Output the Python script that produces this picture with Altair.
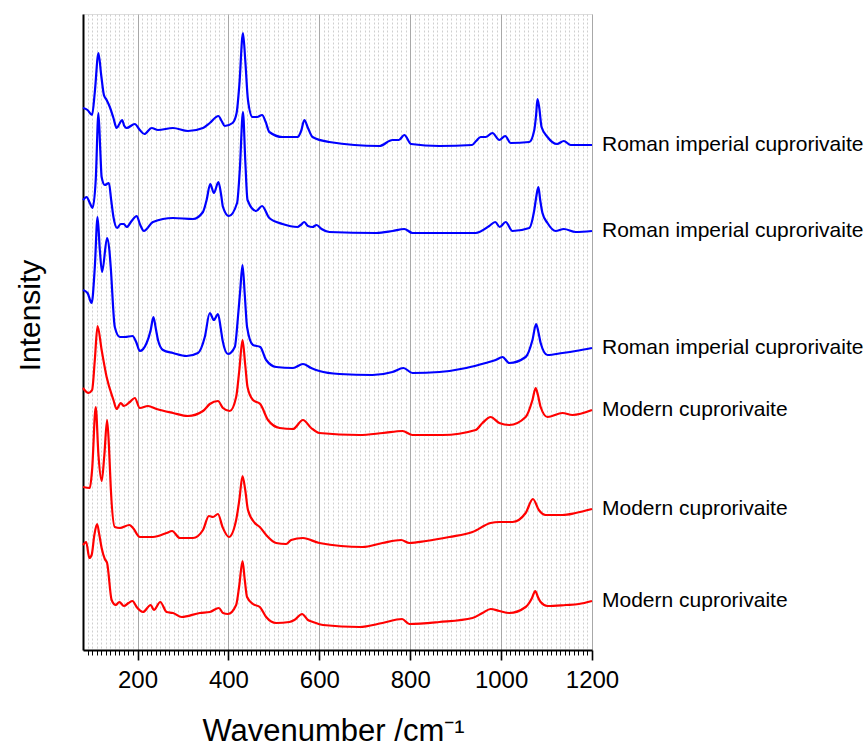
import altair as alt
import pandas as pd

# Raman spectra, offset vertically (arbitrary intensity units)
wn_1 = [80, 90, 100, 106, 114, 120, 126, 132, 139, 147, 154, 160, 166, 171, 176, 194, 205, 215, 231, 245,
        278, 311, 344, 359, 378, 385, 392, 409, 418, 424, 432, 437, 443, 453, 463, 474, 482, 490, 519, 552,
        560, 567, 575, 585, 622, 732, 761, 775, 787, 802, 864, 936, 945, 955, 966, 981, 996, 1009, 1021, 1062,
        1073, 1077, 1080, 1084, 1089, 1102, 1123, 1138, 1153, 1200]
int_1 = [542, 540, 535, 558, 597, 575, 555, 550, 543, 532, 522, 526, 530, 524, 522, 526, 520, 516, 522, 520,
         522, 519, 522, 527, 534, 529, 524, 527, 537, 565, 617, 590, 550, 533, 533, 535, 528, 518, 513, 513,
         519, 530, 522, 513, 508, 504, 510, 510, 515, 506, 504, 505, 509, 513, 513, 517, 510, 514, 507, 508,
         520, 535, 551, 542, 523, 513, 506, 509, 505, 505]

wn_2 = [80, 88, 95, 101, 108, 114, 118, 121, 128, 137, 142, 147, 155, 163, 170, 176, 187, 198, 206, 214,
        234, 278, 322, 344, 352, 360, 368, 378, 384, 388, 401, 419, 425, 432, 437, 442, 461, 474, 490, 519,
        552, 559, 567, 575, 585, 594, 605, 622, 725, 761, 787, 805, 944, 974, 987, 997, 1010, 1025, 1062, 1073,
        1078, 1082, 1086, 1091, 1102, 1120, 1138, 1164, 1200]
int_2 = [450, 453, 447, 442, 470, 537, 500, 473, 465, 467, 450, 433, 422, 426, 426, 423, 429, 434, 425, 419,
         428, 432, 431, 438, 450, 466, 457, 468, 455, 443, 434, 447, 480, 538, 490, 450, 439, 444, 432, 426,
         423, 425, 428, 424, 423, 425, 421, 418, 417, 419, 421, 417, 417, 424, 428, 423, 428, 419, 422, 440,
         455, 463, 450, 437, 427, 419, 421, 418, 419]

wn_3 = [80, 90, 99, 106, 112, 117, 122, 133, 138, 141, 150, 161, 172, 189, 197, 205, 220, 229, 235, 240,
        245, 256, 278, 308, 333, 348, 359, 368, 377, 383, 387, 399, 414, 421, 426, 431, 436, 441, 454, 470,
        483, 505, 542, 564, 582, 600, 644, 717, 761, 785, 805, 864, 923, 966, 988, 1003, 1018, 1054, 1069, 1077,
        1082, 1087, 1102, 1135, 1164, 1200]
int_3 = [360, 357, 347, 383, 433, 400, 378, 412, 400, 383, 323, 313, 313, 314, 308, 299, 307, 320, 333, 322,
         310, 300, 297, 294, 297, 313, 337, 330, 336, 322, 310, 296, 303, 333, 360, 385, 355, 323, 305, 303,
         290, 283, 282, 286, 282, 279, 276, 275, 278, 282, 277, 278, 282, 287, 290, 293, 287, 293, 310, 326,
         318, 307, 295, 297, 299, 302]

wn_4 = [80, 92, 100, 106, 112, 121, 132, 147, 154, 163, 170, 183, 194, 205, 223, 242, 278, 311, 344, 359,
        377, 388, 403, 417, 424, 431, 437, 442, 454, 470, 487, 513, 542, 564, 582, 600, 688, 740, 783, 805,
        871, 944, 959, 977, 996, 1018, 1054, 1069, 1076, 1081, 1087, 1102, 1135, 1157, 1200]
int_4 = [262, 257, 260, 290, 324, 300, 273, 250, 241, 247, 244, 248, 252, 242, 244, 241, 237, 234, 239, 246,
         249, 242, 239, 253, 280, 310, 285, 263, 250, 246, 230, 222, 221, 230, 222, 217, 215, 217, 219, 215,
         215, 220, 227, 233, 227, 225, 233, 250, 262, 255, 243, 233, 237, 235, 240]

wn_5 = [80, 95, 100, 108, 114, 121, 127, 133, 137, 141, 150, 161, 182, 190, 205, 234, 264, 276, 293, 322,
        344, 357, 366, 377, 387, 401, 417, 424, 431, 437, 443, 458, 469, 483, 505, 527, 538, 564, 600, 695,
        739, 780, 798, 835, 886, 937, 977, 996, 1025, 1054, 1070, 1083, 1098, 1135, 1164, 1200]
int_5 = [163, 162, 180, 243, 195, 169, 195, 230, 205, 163, 123, 122, 125, 122, 113, 113, 117, 119, 112, 112,
         120, 134, 133, 136, 123, 113, 130, 150, 174, 160, 140, 127, 123, 115, 107, 106, 110, 112, 107, 103,
         107, 110, 107, 109, 113, 118, 127, 128, 128, 137, 151, 140, 135, 135, 137, 141]

wn_6 = [80, 87, 94, 99, 105, 111, 116, 121, 128, 133, 143, 152, 160, 170, 180, 189, 198, 212, 229, 236,
        250, 264, 278, 297, 337, 359, 379, 388, 399, 417, 424, 431, 436, 441, 454, 469, 483, 505, 534, 545,
        562, 575, 586, 608, 688, 739, 782, 798, 864, 937, 959, 977, 996, 1018, 1054, 1068, 1075, 1081, 1087, 1102,
        1142, 1171, 1200]
int_6 = [105, 108, 92, 95, 115, 126, 115, 102, 91, 87, 50, 45, 48, 44, 47, 49, 43, 38, 45, 40,
         48, 38, 37, 33, 37, 38, 42, 37, 36, 45, 65, 89, 70, 53, 46, 43, 33, 27, 28, 30,
         36, 30, 28, 25, 23, 27, 31, 26, 28, 32, 37, 41, 39, 37, 43, 52, 59, 53, 48, 44,
         45, 46, 49]

sample_labels = ["Roman imperial cuprorivaite", "Roman imperial cuprorivaite", "Roman imperial cuprorivaite",
                 "Modern cuprorivaite", "Modern cuprorivaite", "Modern cuprorivaite"]
sample_groups = ["Roman", "Roman", "Roman", "Modern", "Modern", "Modern"]

major_ticks = [200, 400, 600, 800, 1000, 1200]
minor_ticks = [v for v in range(90, 1200, 10) if v not in major_ticks]

FONT = "Liberation Sans"

spectra = [(wn_1, int_1), (wn_2, int_2), (wn_3, int_3), (wn_4, int_4), (wn_5, int_5), (wn_6, int_6)]
rows = []
end_rows = []
for i, (wn, inten) in enumerate(spectra):
    for w, v in zip(wn, inten):
        rows.append({"spectrum": i, "group": sample_groups[i], "wavenumber": w, "intensity": v})
    end_rows.append({"spectrum": i, "label": sample_labels[i], "wavenumber": wn[-1], "intensity": inten[-1]})
df = pd.DataFrame(rows)
ends = pd.DataFrame(end_rows)

x_scale = alt.Scale(domain=[80, 1200], nice=False, zero=False)
y_scale = alt.Scale(domain=[0, 636], nice=False, zero=False)

y_axis = alt.Axis(labels=False, ticks=False, grid=False, title="Intensity",
                  titleFont=FONT, titleFontSize=30, titleFontWeight="normal", titleColor="black",
                  titleAngle=-90, titleX=-53, titleY=301, titleAlign="center",
                  titleBaseline="middle", domainColor="black", domainWidth=2)

lines = alt.Chart(df).mark_line(strokeWidth=2.2, interpolate="monotone").encode(
    x=alt.X("wavenumber:Q", scale=x_scale,
            axis=alt.Axis(values=major_ticks, orient="bottom", format="d", title="Wavenumber /cm⁻¹",
                          titleFont=FONT, titleFontSize=31, titleFontWeight="normal", titleColor="black",
                          titleX=250, titleY=90, titleAlign="center", titleBaseline="alphabetic",
                          labelFont=FONT, labelFontSize=24, labelColor="black", labelPadding=8,
                          labelFlush=False, labelOverlap=False,
                          tickSize=10, tickWidth=1.6, tickColor="black",
                          domainColor="black", domainWidth=2,
                          grid=True, gridColor="#a8a8a8", gridWidth=1)),
    y=alt.Y("intensity:Q", scale=y_scale, axis=y_axis),
    detail="spectrum:N",
    color=alt.Color("group:N", scale=alt.Scale(domain=["Roman", "Modern"], range=["#0000ff", "#ff0000"]),
                    legend=None),
)

labels = alt.Chart(ends).mark_text(align="left", baseline="middle", dx=10, font=FONT,
                                   fontSize=21, color="black").encode(
    x=alt.X("wavenumber:Q", scale=x_scale,
            axis=alt.Axis(values=minor_ticks, orient="bottom", title=None, labels=False, domain=False,
                          tickSize=5, tickWidth=1, tickColor="black",
                          grid=True, gridColor="#cfcfcf", gridWidth=1, gridDash=[2, 2])),
    y=alt.Y("intensity:Q", scale=y_scale, axis=y_axis),
    text="label:N",
)

chart = alt.layer(lines, labels).resolve_axis(x="independent").properties(
    width=509, height=636,
    autosize=alt.AutoSizeParams(type="none"),
    padding={"left": 83, "top": 14, "right": 272, "bottom": 99},
).configure_view(stroke="black", strokeWidth=2).configure(background="white")

chart.save("out.html", embed_options={"renderer": "svg", "actions": False})
